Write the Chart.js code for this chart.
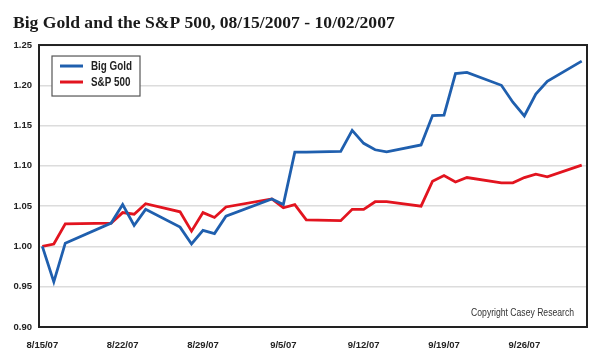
<!DOCTYPE html>
<html>
<head>
<meta charset="utf-8">
<script src="https://cdn.jsdelivr.net/npm/chart.js@4.4.0/dist/chart.umd.min.js"></script>
<style>
  html, body { margin: 0; padding: 0; background: #fff; }
  #wrap { width: 610px; height: 358px; }
</style>
</head>
<body>
<div id="wrap"><canvas id="myChart" width="610" height="358"></canvas></div>
<script>
// trading days shown (2007)
var dates = ['8/15','8/16','8/17','8/21','8/22','8/23','8/24','8/27','8/28','8/29','8/30','8/31',
             '9/4','9/5','9/6','9/7','9/10','9/11','9/12','9/13','9/14','9/17','9/18','9/19',
             '9/20','9/21','9/24','9/25','9/26','9/27','9/28','10/1'];
var bigGold = [1.000, 0.956, 1.004, 1.029, 1.052, 1.026, 1.046, 1.024, 1.003, 1.020, 1.016, 1.0375,
               1.059, 1.052, 1.117, 1.117, 1.118, 1.144, 1.128, 1.120, 1.1175, 1.126, 1.1625, 1.163,
               1.2146, 1.216, 1.200, 1.179, 1.162, 1.189, 1.205, 1.230];
var sp500 = [1.000, 1.003, 1.028, 1.029, 1.042, 1.040, 1.053, 1.043, 1.019, 1.042, 1.036, 1.049,
             1.059, 1.048, 1.052, 1.033, 1.032, 1.046, 1.046, 1.0555, 1.0555, 1.050, 1.081, 1.088,
             1.080, 1.0855, 1.079, 1.079, 1.0855, 1.0896, 1.0863, 1.101];
var tickLabels = ['8/15/07','8/22/07','8/29/07','9/5/07','9/12/07','9/19/07','9/26/07'];

var sans = "'Liberation Sans', Arial, sans-serif";

// days since 8/15/2007
function dayOf(s) {
    var p = s.split('/');
    var d = new Date(2007, +p[0] - 1, +p[1]);
    return Math.round((d - new Date(2007, 7, 15)) / 86400000);
}
var tickDays = tickLabels.map(dayOf);

function points(vals) {
    return vals.map(function (v, i) { return { x: dayOf(dates[i]), y: v }; });
}

// squeeze text horizontally to look like a narrow face
function narrowText(c, txt, x, y, align) {
    var k = 0.82;
    c.save();
    c.scale(k, 1);
    c.textAlign = align;
    c.fillText(txt, x / k, y);
    c.restore();
}

var framePlugin = {
    id: 'frame',
    afterDatasetsDraw: function (chart) {
        var c = chart.ctx, a = chart.chartArea;
        c.save();
        c.strokeStyle = '#222';
        c.lineWidth = 2;
        c.strokeRect(a.left, a.top, a.right - a.left, a.bottom - a.top);

        // copyright note
        c.fillStyle = '#333';
        c.font = '10.5px ' + sans;
        c.textBaseline = 'middle';
        narrowText(c, 'Copyright Casey Research', a.right - 13, a.bottom - 14, 'right');

        // boxed legend top-left
        var x0 = a.left + 13, y0 = a.top + 11;
        c.fillStyle = '#fff';
        c.fillRect(x0, y0, 88, 40);
        c.strokeStyle = '#555';
        c.lineWidth = 1.2;
        c.strokeRect(x0, y0, 88, 40);
        c.font = 'bold 12px ' + sans;
        chart.data.datasets.forEach(function (ds, i) {
            var y = y0 + 10 + i * 16;
            c.strokeStyle = ds.borderColor;
            c.lineWidth = 3;
            c.beginPath();
            c.moveTo(x0 + 8, y);
            c.lineTo(x0 + 31, y);
            c.stroke();
            c.fillStyle = '#222';
            narrowText(c, ds.label, x0 + 39, y + 1, 'left');
        });
        c.restore();
    }
};

var ctx = document.getElementById('myChart').getContext('2d');
var myChart = new Chart(ctx, {
    type: 'line',
    data: {
        datasets: [
            {
                label: 'Big Gold',
                data: points(bigGold),
                borderColor: '#1f5fae',
                borderWidth: 2.8,
                pointRadius: 0,
                fill: false
            },
            {
                label: 'S&P 500',
                data: points(sp500),
                borderColor: '#e2141f',
                borderWidth: 2.8,
                pointRadius: 0,
                fill: false
            }
        ]
    },
    options: {
        responsive: false,
        animation: false,
        layout: { padding: { left: 13, right: 23, top: 0, bottom: 0 } },
        elements: { line: { tension: 0, borderJoinStyle: 'miter' } },
        plugins: {
            legend: { display: false },
            tooltip: { enabled: false },
            title: {
                display: true,
                text: 'Big Gold and the S&P 500, 08/15/2007 - 10/02/2007',
                align: 'start',
                color: '#1a1a1a',
                font: { family: "'Liberation Serif', 'Times New Roman', serif", size: 17.6, weight: 'bold' },
                padding: { top: 12.5, bottom: 11.4 }
            }
        },
        scales: {
            x: {
                type: 'linear',
                min: -0.29,
                max: 47.46,
                grid: { display: false },
                border: { display: false },
                afterBuildTicks: function (scale) {
                    scale.ticks = tickDays.map(function (d) { return { value: d }; });
                },
                afterFit: function (scale) { scale.height = 31; },
                ticks: {
                    autoSkip: false,
                    maxRotation: 0,
                    padding: 5,
                    color: '#222',
                    font: { family: sans, size: 9.5, weight: 'bold' },
                    callback: function (v) {
                        var i = tickDays.indexOf(v);
                        return i >= 0 ? tickLabels[i] : '';
                    }
                }
            },
            y: {
                min: 0.90,
                max: 1.25,
                grid: { color: '#dcdcdc', lineWidth: 1.5, drawTicks: false },
                border: { display: false },
                afterFit: function (scale) { scale.width = 26; },
                ticks: {
                    stepSize: 0.05,
                    padding: 7,
                    color: '#222',
                    font: { family: sans, size: 9.5, weight: 'bold' },
                    callback: function (v) { return v.toFixed(2); }
                }
            }
        }
    },
    plugins: [framePlugin]
});
</script>
</body>
</html>
